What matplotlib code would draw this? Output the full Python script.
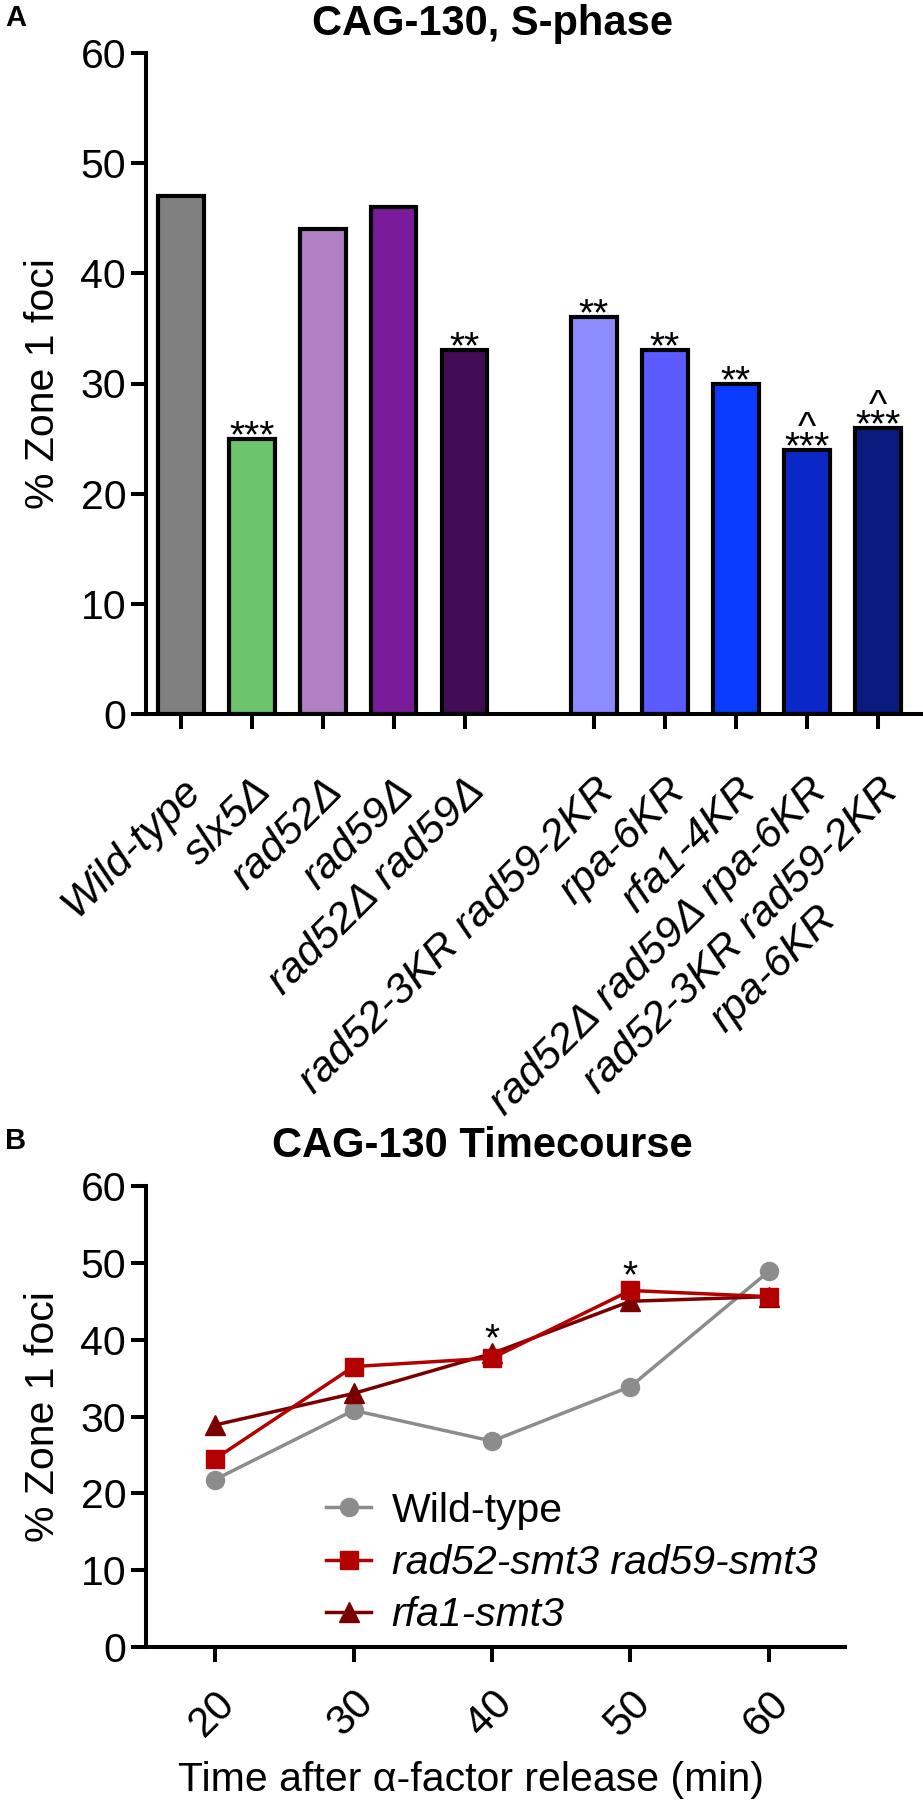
import numpy as np
import matplotlib.pyplot as plt

plt.rcParams['font.family'] = ['Liberation Sans', 'DejaVu Sans']

# Panel A: % zone 1 foci in S-phase
strains = ['Wild-type', 'slx5Δ', 'rad52Δ', 'rad59Δ', 'rad52Δ rad59Δ',
           'rad52-3KR rad59-2KR', 'rpa-6KR', 'rfa1-4KR', 'rad52Δ rad59Δ rpa-6KR',
           'rad52-3KR rad59-2KR\nrpa-6KR']
zone1_pct = [47, 25, 44, 46, 33, 36, 33, 30, 24, 26]
stars = ['', '***', '', '', '**', '**', '**', '**', '***', '***']
carets = ['', '', '', '', '', '', '', '', '^', '^']
bar_colors = ['#808080', '#6cc46c', '#b07fc4', '#7a1b9b', '#410b56',
              '#8c8cff', '#5a5aff', '#0a3cff', '#0a28c8', '#0b1a7e']

# Panel B: timecourse
times = [20, 30, 40, 50, 60]
wt_tc = [21.8, 30.8, 26.8, 33.9, 48.9]
rad_smt3 = [24.5, 36.5, 37.6, 46.4, 45.6]
rfa1_smt3 = [28.9, 33.0, 38.2, 45.0, 45.6]
tc_stars = {40: 38.2, 50: 46.4}

fig = plt.figure(figsize=(9.23, 18), dpi=100)
W, H = 923, 1800

def add_ax(x0, x1, ytop, ybot):
    return fig.add_axes([x0 / W, 1 - ybot / H, (x1 - x0) / W, (ybot - ytop) / H])

def style(ax):
    for s in ['top', 'right']:
        ax.spines[s].set_visible(False)
    for s in ['left', 'bottom']:
        ax.spines[s].set_linewidth(2.9)
    ax.tick_params(direction='out', length=10.8, width=2.9, labelsize=29.5)

# ---- A ----
ax1 = add_ax(146, 922, 53, 714)
idx = np.arange(len(strains))
xpos = idx + np.where(idx >= 5, 0.82, 0.0)
ax1.bar(xpos, zone1_pct, width=0.64, color=bar_colors, edgecolor='black',
        linewidth=3, zorder=2)
ax1.set_ylim(0, 60)
ax1.set_yticks(range(0, 61, 10))
ax1.set_xlim(-0.49, 10.44)
style(ax1)
ax1.set_xticks(xpos)
# first line only on the ticks; extra lines are stacked below
first_lines = [s.split('\n')[0] for s in strains]
ax1.set_xticklabels(first_lines, rotation=45, ha='right', va='top',
                    rotation_mode='anchor', fontstyle='italic', fontsize=31)
ax1.tick_params(axis='x', pad=30)
line_gap = 1.09 * 31  # points between line centres
for lbl, s in zip(ax1.get_xticklabels(), strains):
    for k, extra in enumerate(s.split('\n')[1:], start=1):
        ax1.annotate(extra, xy=(0.5, 0.5), xycoords=lbl,
                     xytext=(k * line_gap * 0.7071, -k * line_gap * 0.7071),
                     textcoords='offset points', rotation=45, ha='center',
                     va='center', rotation_mode='anchor', fontstyle='italic',
                     fontsize=31)

for xi, v, s, c in zip(xpos, zone1_pct, stars, carets):
    if not s:
        continue
    if c:
        # caret stacked above the stars
        ax1.annotate(c + '\n' + s, xy=(xi, v), xytext=(0, -12),
                     textcoords='offset points', ha='center', va='bottom',
                     multialignment='center', linespacing=0.4, fontsize=28)
    else:
        ax1.annotate(s, xy=(xi, v), xytext=(0, -6), textcoords='offset points',
                     ha='center', va='baseline', fontsize=28)

ax1.set_ylabel('% Zone 1 foci', fontsize=29.5)
ax1.yaxis.set_label_coords(-0.133, 0.5)
ax1.yaxis.label.set_va('center')

fig.text(492 / W, 1 - 24 / H, 'CAG-130, S-phase', ha='center', va='center',
         fontsize=30, fontweight='bold')
fig.text(16 / W, 1 - 18 / H, 'A', ha='center', va='center', fontsize=21,
         fontweight='bold')

# ---- B ----
ax2 = add_ax(146, 845, 1186, 1647)
l_wt, = ax2.plot(times, wt_tc, color='#8c8c8c', marker='o', ms=13, lw=2.5,
                 label='Wild-type', zorder=3)
l_rfa, = ax2.plot(times, rfa1_smt3, color='#7a0000', marker='^', ms=15, lw=2.5,
                  label='rfa1-smt3', zorder=3)
l_rad, = ax2.plot(times, rad_smt3, color='#b30000', marker='s', ms=13, lw=2.5,
                  label='rad52-smt3 rad59-smt3', zorder=4)
ax2.set_ylim(0, 60)
ax2.set_yticks(range(0, 61, 10))
ax2.set_xlim(15, 65.5)
ax2.set_xticks(times)
style(ax2)
ax2.set_xticklabels([str(t) for t in times], rotation=45, ha='right', va='top',
                    rotation_mode='anchor', fontsize=30)
ax2.tick_params(axis='x', pad=15)

for t, v in tc_stars.items():
    ax2.annotate('*', xy=(t, v), xytext=(0, 2), textcoords='offset points',
                 ha='center', va='baseline', fontsize=28)

leg = ax2.legend(handles=[l_wt, l_rad, l_rfa], loc='center left',
                 bbox_to_anchor=(0.2575, 0.182), frameon=False, fontsize=29.5,
                 borderpad=0, borderaxespad=0, handlelength=1.1,
                 handletextpad=0.5, labelspacing=0.35)
for t in leg.get_texts()[1:]:
    t.set_fontstyle('italic')

ax2.set_ylabel('% Zone 1 foci', fontsize=29.5)
ax2.yaxis.set_label_coords(-0.147, 0.5)
ax2.yaxis.label.set_va('center')
ax2.set_xlabel('Time after α-factor release (min)', fontsize=29.5)
ax2.xaxis.set_label_coords(0.465, -0.288)
ax2.xaxis.label.set_va('center')

fig.text(482 / W, 1 - 1146 / H, 'CAG-130 Timecourse', ha='center', va='center',
         fontsize=30, fontweight='bold')
fig.text(16 / W, 1 - 1141 / H, 'B', ha='center', va='center', fontsize=21,
         fontweight='bold')

fig.savefig('out.png', dpi=100)
